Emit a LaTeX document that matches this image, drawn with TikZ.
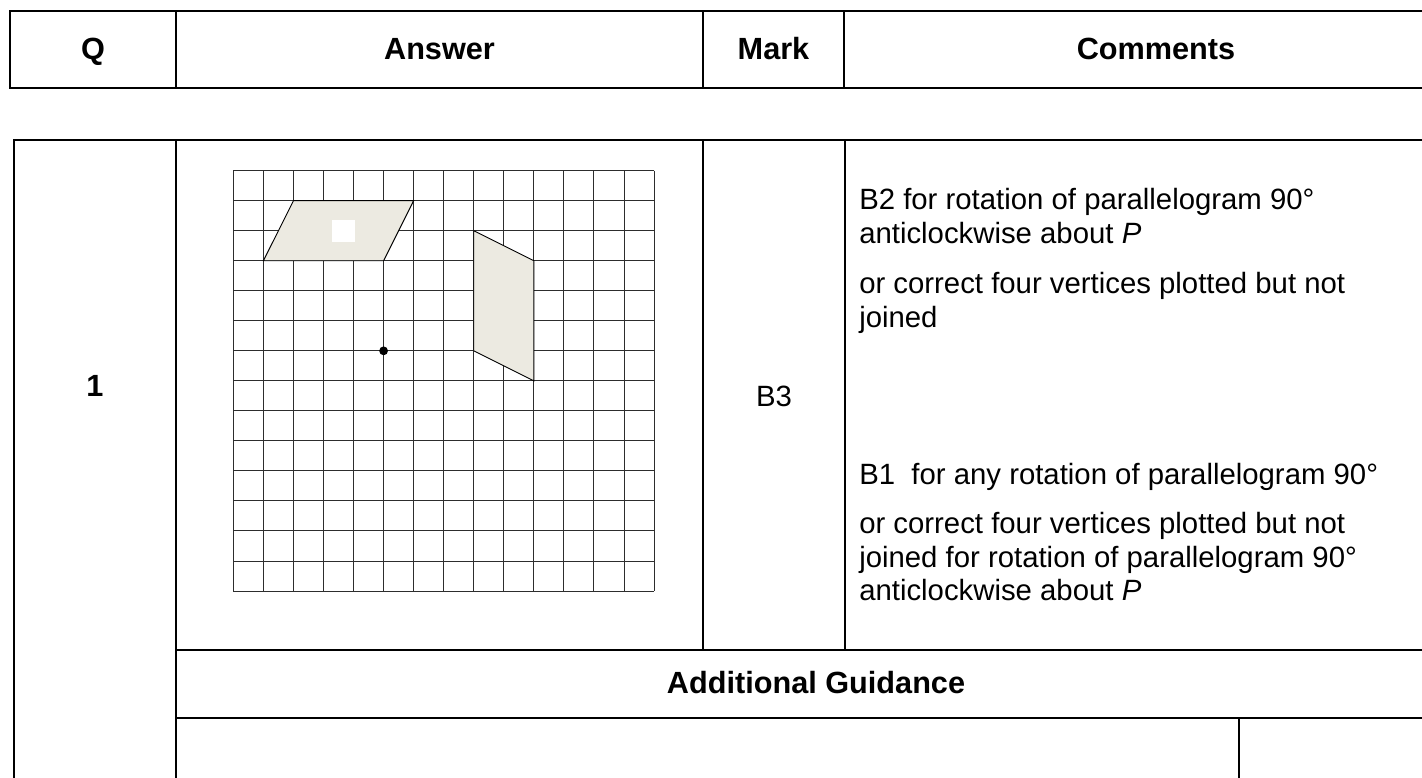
\documentclass[tikz,border=0pt]{standalone}
\usepackage{fontspec}
\setmainfont{Liberation Sans}
\definecolor{shapefill}{RGB}{236,234,225}
\definecolor{gridline}{RGB}{45,45,45}
\tikzset{
  rule/.style={line width=1.2pt, black},
  gridrule/.style={line width=0.75pt, gridline},
  shapeedge/.style={line width=0.7pt, black, fill=shapefill},
  head/.style={inner sep=0pt, anchor=base, font=\fontsize{23}{26}\selectfont\bfseries},
  body/.style={inner sep=0pt, anchor=base west, font=\fontsize{22}{25}\selectfont},
  bodyc/.style={inner sep=0pt, anchor=base, font=\fontsize{22}{25}\selectfont},
}
\begin{document}
\begin{tikzpicture}[x=0.75pt,y=-0.75pt]
\useasboundingbox (0,0) rectangle (1422,778);
% header table
\draw[rule] (1422,11) -- (10,11) -- (10,88) -- (1422,88);
\draw[rule] (176,11) -- (176,88);
\draw[rule] (703,11) -- (703,88);
\draw[rule] (844,11) -- (844,88);
\node[head] (hq) at (93,60) {Q};
\node[head] (ha) at (439.5,60) {Answer};
\node[head] (hm) at (773.5,60) {Mark};
\node[head] (hc) at (1156,60) {Comments};
% main table
\draw[rule] (1422,140) -- (14,140) -- (14,778);
\draw[rule] (176,140) -- (176,778);
\draw[rule] (703,140) -- (703,650);
\draw[rule] (845,140) -- (845,650);
\draw[rule] (176,650) -- (1422,650);
\draw[rule] (176,718) -- (1422,718);
\draw[rule] (1239,718) -- (1239,778);
% grid
\begin{scope}[shift={(175pt,-128pt)}, x=22.54pt, y=-22.52pt]
  \foreach \i in {0,...,14} {
    \draw[gridrule] (\i,0) -- (\i,14);
    \draw[gridrule] (0,\i) -- (14,\i);
  }
  \draw[shapeedge] (2,1) -- (6,1) -- (5,3) -- (1,3) -- cycle;
  \fill[white] (3.29,1.65) rectangle (4.06,2.36);
  \draw[shapeedge] (8,2) -- (10,3) -- (10,7) -- (8,6) -- cycle;
  \fill[black] (5,6) circle (3.3pt);
\end{scope}
% texts
\node[head] (qn) at (95,396) {1};
\node[bodyc] (mk) at (774,406) {B3};
\node[body] (c1) at (859,209) {B2 for rotation of parallelogram 90°};
\node[body] (c2) at (859,243) {anticlockwise about \textit{P}};
\node[body] (c3) at (859,293) {or correct four vertices plotted but not};
\node[body] (c4) at (859,327) {joined};
\node[body] (c5) at (859,484) {B1\ \ for any rotation of parallelogram 90°};
\node[body] (c6) at (859,533) {or correct four vertices plotted but not};
\node[body] (c7) at (859,567) {joined for rotation of parallelogram 90°};
\node[body] (c8) at (859,600) {anticlockwise about \textit{P}};
\node[head] (ag) at (816,693) {Additional Guidance};
\end{tikzpicture}
\end{document}
